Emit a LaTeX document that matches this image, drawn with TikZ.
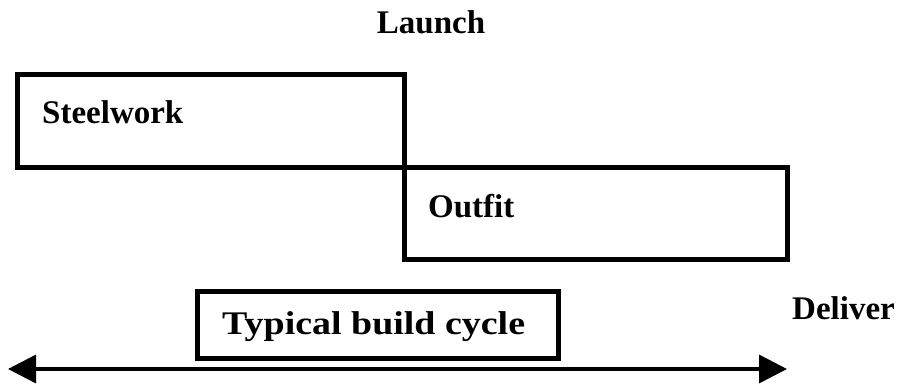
\documentclass[tikz,border=0pt]{standalone}
\usepackage{fontspec}
\setmainfont{Liberation Serif}
\usetikzlibrary{arrows.meta}
\begin{document}
\begin{tikzpicture}[x=1pt,y=-1pt,
  phase/.style={draw=black, line width=4.5pt, rectangle, inner sep=0pt, anchor=north west},
  lbl/.style={font=\fontsize{33}{36}\selectfont\bfseries, inner sep=0pt},
  span/.style={line width=3.5pt, {Triangle[length=28pt,width=28pt]}-{Triangle[length=28pt,width=28pt]}}]
  \useasboundingbox (0,0) rectangle (901,386);

  % phase boxes
  \node[phase, minimum width=387pt, minimum height=93pt] (steel) at (15,72) {};
  \node[phase, minimum width=383pt, minimum height=92pt] (outfit) at (402,165) {};
  \node[phase, minimum width=361pt, minimum height=67pt] (cycle) at (195,289) {};

  % labels
  \node[lbl, anchor=west] (steeltxt) at (42,112) {Steelwork};
  \node[lbl, anchor=west] (outfittxt) at (428,206) {Outfit};
  \node[lbl, anchor=west] (cycletxt) at (222,327) {\scalebox{1.15}[1]{Typical build cycle}};
  \node[lbl] (launch) at (431,22) {Launch};
  \node[lbl, anchor=west] (deliver) at (792,308) {Deliver};

  % overall span arrow
  \coordinate (start) at (8,369);
  \coordinate (finish) at (787,369);
  \draw[span] (start) -- (finish);
\end{tikzpicture}
\end{document}
